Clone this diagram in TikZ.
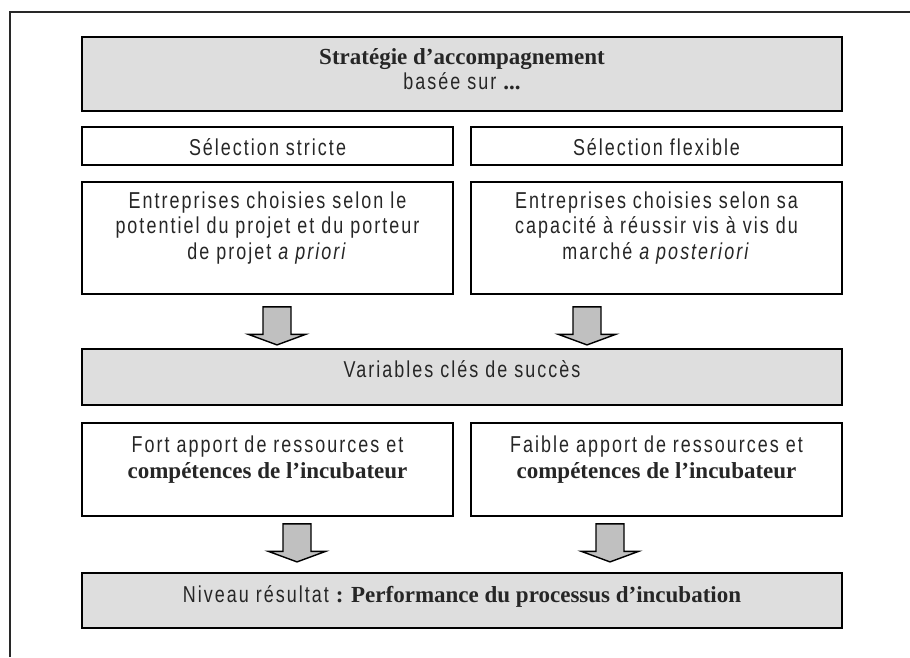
\documentclass[tikz,border=0pt]{standalone}
\usepackage{fontspec}
\usetikzlibrary{calc}
\setmainfont{Liberation Sans}[FakeStretch=0.78,LetterSpace=8.8]
\newfontfamily\serifb{Liberation Serif}
\definecolor{boxgray}{RGB}{222,222,222}
\definecolor{arrowgray}{RGB}{192,192,192}
\definecolor{txtcol}{RGB}{38,38,38}
\definecolor{framecol}{RGB}{40,40,40}
\tikzset{
  box/.style={draw=black, line width=1.8pt, fill=white, inner sep=0, rectangle},
  graybox/.style={box, fill=boxgray},
  txt/.style={inner sep=0, anchor=base, text=txtcol, font=\fontsize{23}{27}\selectfont},
  arrowstyle/.style={draw=black, line width=1.4pt, fill=arrowgray, line join=miter},
  framestyle/.style={draw=framecol, line width=1.3pt},
  pics/blockarrow/.style={code={
    \draw[arrowstyle] (-14,0) -- (14,0) -- (14,27.5) -- (28.5,27.5) -- (0,38) -- (-28.5,27.5) -- (-14,27.5) -- cycle;}}
}
\newcommand{\bsf}[1]{{\serifb\bfseries\fontsize{23}{27}\selectfont #1}}
\begin{document}
\begin{tikzpicture}[x=1pt,y=-1pt]
\useasboundingbox (0,0) rectangle (910,657);
\fill[white] (0,0) rectangle (910,657);
% frame
\draw[framestyle] (10,657) -- (10,12) -- (910,12);
% boxes
\node[graybox, minimum width=760, minimum height=74] (top) at (462,74) {};
\node[box, minimum width=371, minimum height=38] (selL) at (267.5,146) {};
\node[box, minimum width=371, minimum height=38] (selR) at (656.5,146) {};
\node[box, minimum width=371, minimum height=112] (entL) at (267.5,238) {};
\node[box, minimum width=371, minimum height=112] (entR) at (656.5,238) {};
\node[graybox, minimum width=760, minimum height=56] (var) at (462,377) {};
\node[box, minimum width=371, minimum height=93] (fortL) at (267.5,469.5) {};
\node[box, minimum width=371, minimum height=93] (fortR) at (656.5,469.5) {};
\node[graybox, minimum width=760, minimum height=55] (niv) at (462,600.5) {};
% arrows
\path ($(entL.south)+(9.5,12)$) coordinate (a1) pic {blockarrow};
\path ($(entR.south)+(-69.5,12)$) coordinate (a2) pic {blockarrow};
\path ($(fortL.south)+(29.5,7)$) coordinate (a3) pic {blockarrow};
\path ($(fortR.south)+(-46.5,7)$) coordinate (a4) pic {blockarrow};
% texts
\node[txt] (t1) at (462,64) {\bsf{Stratégie d’accompagnement}};
\node[txt] (t2) at (462,89) {basée sur \bsf{...}};
\node[txt] (s1) at (267.5,155) {Sélection stricte};
\node[txt] (s2) at (656.5,155) {Sélection flexible};
\node[txt] (e1a) at (267.5,208) {Entreprises choisies selon le};
\node[txt] (e1b) at (267.5,233.5) {potentiel du projet et du porteur};
\node[txt] (e1c) at (267.5,259) {de projet \textit{a priori}};
\node[txt] (e2a) at (656.5,208) {Entreprises choisies selon sa};
\node[txt] (e2b) at (656.5,233.5) {capacité à réussir vis à vis du};
\node[txt] (e2c) at (656.5,259) {marché \textit{a posteriori}};
\node[txt] (v) at (462,377) {Variables clés de succès};
\node[txt] (f1a) at (267.5,452) {Fort apport de ressources et};
\node[txt] (f1b) at (267.5,478) {\bsf{compétences de l’incubateur}};
\node[txt] (f2a) at (656.5,452) {Faible apport de ressources et};
\node[txt] (f2b) at (656.5,478) {\bsf{compétences de l’incubateur}};
\node[txt] (n) at (462,602) {Niveau résultat \bsf{: Performance du processus d’incubation}};
\end{tikzpicture}
\end{document}
